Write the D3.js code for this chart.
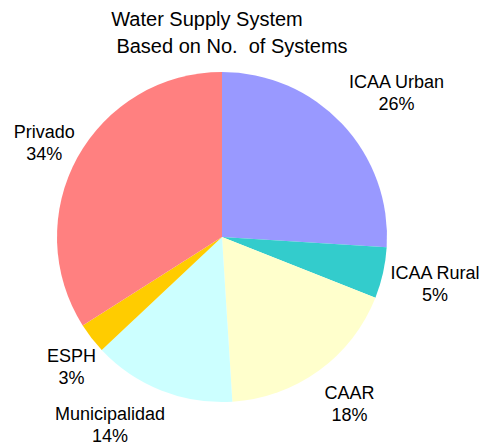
<!DOCTYPE html>
<html>
<head>
<meta charset="utf-8">
<script src="https://cdn.jsdelivr.net/npm/d3@7"></script>
<style>
  body { margin: 0; background: #fff; }
  text { font-family: "Liberation Sans", Arial, sans-serif; fill: #000; }
</style>
</head>
<body>
<div id="chart"></div>
<script>
const WIDTH = 481;
const HEIGHT = 446;

const categories = ['ICAA Urban', 'ICAA Rural', 'CAAR', 'Municipalidad', 'ESPH', 'Privado'];
const values = [26, 5, 18, 14, 3, 34];
const colors = ['#9999ff', '#33cccc', '#ffffcc', '#ccffff', '#ffcc00', '#ff8080'];
const titleLines = ['Water Supply System', 'Based on No.  of Systems'];

const CX = 222;
const CY = 237;
const RADIUS = 165;
const LABEL_RADIUS = 212;

// hand nudges so labels sit where the original chart put them
const LABEL_NUDGE = {
  'ICAA Urban': [20, 0],
  'ICAA Rural': [6, 0],
  'CAAR': [3, -6],
  'Municipalidad': [-34, -10],
  'ESPH': [17, -1],
  'Privado': [8, 7]
};

const svg = d3.select('#chart').append('svg')
  .attr('width', WIDTH)
  .attr('height', HEIGHT);

const data = categories.map((c, i) => ({ name: c, value: values[i], color: colors[i] }));

const pie = d3.pie()
  .sort(null)
  .value(d => d.value);

const arc = d3.arc()
  .innerRadius(0)
  .outerRadius(RADIUS);

const labelArc = d3.arc()
  .innerRadius(LABEL_RADIUS)
  .outerRadius(LABEL_RADIUS);

const g = svg.append('g')
  .attr('transform', `translate(${CX},${CY})`);

const arcs = pie(data);

g.selectAll('path')
  .data(arcs)
  .enter()
  .append('path')
  .attr('d', arc)
  .attr('fill', d => d.data.color);

const labels = g.selectAll('g.label')
  .data(arcs)
  .enter()
  .append('g')
  .attr('class', 'label')
  .attr('transform', d => {
    const [x, y] = labelArc.centroid(d);
    const [dx, dy] = LABEL_NUDGE[d.data.name];
    return `translate(${x + dx},${y + dy})`;
  });

labels.append('text')
  .attr('text-anchor', 'middle')
  .attr('y', -4)
  .style('font-size', '18px')
  .text(d => d.data.name);

labels.append('text')
  .attr('text-anchor', 'middle')
  .attr('y', 18)
  .style('font-size', '18px')
  .text(d => d.data.value + '%');

svg.selectAll('text.title')
  .data(titleLines)
  .enter()
  .append('text')
  .attr('class', 'title')
  .attr('text-anchor', 'middle')
  .attr('x', (d, i) => i === 0 ? 207 : 232)
  .attr('y', (d, i) => 26 + i * 27)
  .style('font-size', '20px')
  .style('white-space', 'pre')
  .text(d => d);
</script>
</body>
</html>
